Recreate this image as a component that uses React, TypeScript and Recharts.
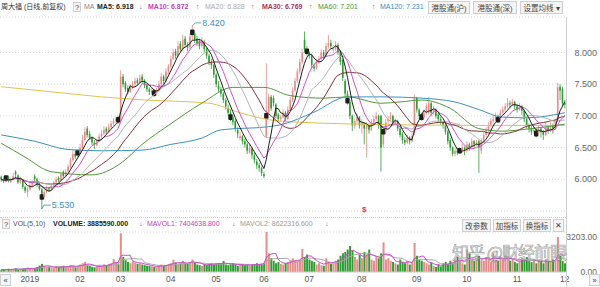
import React from 'react'
import { Bar, CartesianGrid, Cell, ComposedChart, Line, XAxis, YAxis } from 'recharts'

// daily candles, Dec 2018 .. 2 Dec 2019 (index = trading day)
const opens = [
  6.04, 6.0, 5.96, 6.04, 5.96, 6.0, 6.12, 6.06, 5.95, 5.98,
  5.88, 5.8, 5.84, 5.9, 6.05, 6.0, 5.92, 5.84, 5.72, 5.8,
  5.86, 5.84, 5.9, 5.95, 6.02, 5.98, 6.12, 6.05, 6.12, 6.2,
  6.3, 6.4, 6.36, 6.42, 6.5, 6.62, 6.8, 6.72, 6.65, 6.58,
  6.54, 6.6, 6.68, 6.72, 6.8, 6.75, 6.82, 6.88, 6.92, 6.97,
  6.95, 7.62, 7.52, 7.44, 7.38, 7.45, 7.5, 7.56, 7.52, 7.62,
  7.56, 7.48, 7.42, 7.37, 7.4, 7.36, 7.4, 7.5, 7.62, 7.55,
  7.7, 7.78, 7.9, 8.02, 7.95, 8.14, 8.05, 8.22, 8.12, 8.08,
  8.25, 8.3, 8.22, 8.18, 8.1, 8.16, 8.05, 7.95, 7.84, 7.8,
  7.65, 7.48, 7.42, 7.35, 7.25, 7.12, 7.05, 6.98, 6.92, 6.78,
  6.65, 6.68, 6.6, 6.55, 6.42, 6.48, 6.38, 6.28, 6.22, 6.18,
  6.08, 6.67, 7.05, 7.3, 7.28, 7.18, 7.02, 6.95, 6.98, 7.05,
  6.95, 7.1, 7.25, 7.4, 7.55, 7.7, 7.85, 8.2, 8.05, 8.0,
  7.95, 7.78, 7.75, 7.85, 7.9, 8.0, 7.95, 8.1, 8.15, 8.05,
  8.05, 8.12, 8.0, 7.88, 7.55, 7.35, 7.22, 7.0, 6.85, 6.92,
  6.98, 6.85, 6.86, 6.8, 6.85, 6.78, 6.9, 6.95, 7.0, 7.0,
  6.55, 6.75, 6.92, 6.95, 7.0, 6.88, 6.92, 6.8, 6.72, 6.62,
  6.58, 6.66, 6.6, 6.72, 7.28, 7.1, 7.0, 6.98, 7.05, 7.05,
  7.2, 7.05, 7.1, 7.02, 6.95, 6.9, 6.85, 6.75, 6.62, 6.5,
  6.4, 6.46, 6.42, 6.45, 6.5, 6.45, 6.55, 6.5, 6.6, 6.55,
  6.6, 6.45, 6.6, 6.7, 6.78, 6.85, 6.92, 6.95, 7.0, 6.95,
  7.05, 7.1, 7.15, 7.2, 7.18, 7.22, 7.15, 7.1, 7.15, 7.08,
  6.95, 6.85, 6.8, 6.75, 6.78, 6.72, 6.8, 6.75, 6.7, 6.82,
  6.78, 6.85, 6.8, 6.92, 7.46, 7.42, 7.2,
]
const highs = [
  6.06, 6.03, 6.05, 6.06, 6.03, 6.1, 6.14, 6.08, 6.04, 6.0,
  5.9, 5.88, 5.94, 5.98, 6.08, 6.02, 5.94, 5.86, 5.84, 5.9,
  5.88, 5.93, 5.98, 6.04, 6.05, 6.12, 6.14, 6.16, 6.24, 6.34,
  6.46, 6.45, 6.46, 6.56, 6.7, 6.82, 6.84, 6.76, 6.68, 6.62,
  6.64, 6.72, 6.78, 6.84, 6.83, 6.88, 6.92, 6.96, 6.99, 7.0,
  7.72, 7.66, 7.55, 7.48, 7.5, 7.55, 7.6, 7.6, 7.65, 7.66,
  7.58, 7.5, 7.45, 7.44, 7.42, 7.44, 7.55, 7.68, 7.65, 7.75,
  7.82, 7.95, 8.06, 8.06, 8.18, 8.18, 8.28, 8.26, 8.16, 8.3,
  8.42, 8.34, 8.26, 8.22, 8.24, 8.2, 8.08, 7.98, 7.9, 7.82,
  7.68, 7.55, 7.46, 7.38, 7.28, 7.18, 7.1, 7.02, 6.95, 6.82,
  6.75, 6.7, 6.64, 6.58, 6.56, 6.5, 6.42, 6.32, 6.26, 6.2,
  6.12, 7.83, 7.35, 7.33, 7.32, 7.2, 7.05, 7.02, 7.1, 7.08,
  7.15, 7.3, 7.45, 7.6, 7.75, 7.9, 8.06, 8.33, 8.1, 8.02,
  7.98, 7.82, 7.9, 7.95, 8.05, 8.04, 8.15, 8.28, 8.2, 8.12,
  8.18, 8.15, 8.03, 7.9, 7.58, 7.4, 7.25, 7.02, 6.96, 7.04,
  7.0, 6.95, 6.9, 6.9, 6.88, 6.95, 7.0, 7.06, 7.02, 7.02,
  6.8, 6.95, 7.0, 7.06, 7.02, 6.96, 6.94, 6.82, 6.74, 6.66,
  6.7, 6.68, 6.72, 7.34, 7.3, 7.12, 7.05, 7.1, 7.2, 7.3,
  7.22, 7.16, 7.12, 7.05, 6.98, 6.92, 6.88, 6.78, 6.65, 6.52,
  6.5, 6.5, 6.5, 6.56, 6.52, 6.6, 6.58, 6.65, 6.62, 6.62,
  6.62, 6.65, 6.75, 6.82, 6.9, 6.96, 7.0, 7.05, 7.02, 7.1,
  7.15, 7.2, 7.28, 7.24, 7.27, 7.24, 7.18, 7.2, 7.17, 7.1,
  6.98, 6.88, 6.84, 6.82, 6.8, 6.85, 6.82, 6.78, 6.9, 6.85,
  6.9, 6.88, 6.95, 7.52, 7.5, 7.46, 7.25,
]
const lows = [
  5.96, 5.94, 5.95, 5.95, 5.94, 5.98, 6.02, 5.93, 5.92, 5.85,
  5.78, 5.72, 5.82, 5.88, 5.96, 5.88, 5.82, 5.53, 5.7, 5.78,
  5.8, 5.82, 5.88, 5.93, 5.95, 5.96, 6.02, 6.03, 6.1, 6.18,
  6.28, 6.32, 6.34, 6.4, 6.48, 6.6, 6.66, 6.62, 6.54, 6.48,
  6.52, 6.58, 6.64, 6.7, 6.7, 6.73, 6.8, 6.85, 6.88, 6.88,
  6.93, 7.45, 7.38, 7.34, 7.36, 7.42, 7.46, 7.48, 7.5, 7.52,
  7.44, 7.38, 7.33, 7.34, 7.3, 7.34, 7.38, 7.48, 7.5, 7.53,
  7.66, 7.75, 7.88, 7.9, 7.93, 8.0, 8.02, 8.08, 8.02, 8.06,
  8.2, 8.15, 8.1, 8.05, 8.08, 8.0, 7.9, 7.8, 7.74, 7.6,
  7.45, 7.38, 7.3, 7.2, 7.1, 7.0, 6.92, 6.85, 6.75, 6.65,
  6.62, 6.55, 6.5, 6.4, 6.4, 6.32, 6.25, 6.16, 6.12, 6.05,
  6.02, 6.65, 7.02, 7.08, 7.15, 6.96, 6.9, 6.92, 6.96, 6.9,
  6.93, 7.08, 7.22, 7.38, 7.52, 7.66, 7.82, 8.0, 7.95, 7.9,
  7.75, 7.7, 7.73, 7.82, 7.88, 7.9, 7.93, 8.06, 8.05, 8.0,
  8.02, 7.96, 7.8, 7.55, 7.3, 7.18, 6.95, 6.76, 6.8, 6.88,
  6.8, 6.72, 6.55, 6.34, 6.72, 6.76, 6.86, 6.92, 6.8, 6.12,
  6.5, 6.72, 6.88, 6.92, 6.84, 6.85, 6.76, 6.66, 6.56, 6.54,
  6.56, 6.55, 6.58, 6.7, 7.05, 6.95, 6.92, 6.96, 7.02, 7.02,
  7.0, 7.02, 6.96, 6.9, 6.86, 6.8, 6.7, 6.55, 6.45, 6.36,
  6.36, 6.38, 6.4, 6.42, 6.38, 6.42, 6.45, 6.48, 6.5, 6.52,
  6.1, 6.4, 6.58, 6.66, 6.75, 6.82, 6.88, 6.92, 6.9, 6.92,
  7.02, 7.06, 7.12, 7.12, 7.15, 7.1, 7.05, 7.08, 7.02, 6.9,
  6.8, 6.74, 6.7, 6.72, 6.66, 6.7, 6.66, 6.62, 6.68, 6.72,
  6.75, 6.72, 6.78, 6.9, 7.25, 7.15, 7.12,
]
const closes = [
  6.0, 5.97, 6.02, 5.98, 6.0, 6.05, 6.08, 5.95, 6.0, 5.88,
  5.82, 5.85, 5.9, 5.95, 6.0, 5.92, 5.85, 5.72, 5.8, 5.86,
  5.84, 5.9, 5.95, 6.0, 5.98, 6.08, 6.05, 6.12, 6.2, 6.3,
  6.4, 6.36, 6.42, 6.5, 6.62, 6.75, 6.7, 6.65, 6.58, 6.55,
  6.6, 6.68, 6.72, 6.78, 6.75, 6.82, 6.88, 6.92, 6.95, 6.94,
  7.62, 7.5, 7.42, 7.38, 7.45, 7.5, 7.55, 7.52, 7.6, 7.56,
  7.48, 7.42, 7.38, 7.4, 7.36, 7.4, 7.5, 7.62, 7.55, 7.7,
  7.78, 7.9, 8.0, 7.95, 8.1, 8.05, 8.2, 8.12, 8.08, 8.25,
  8.32, 8.2, 8.15, 8.1, 8.18, 8.05, 7.95, 7.85, 7.8, 7.65,
  7.5, 7.42, 7.35, 7.25, 7.15, 7.05, 6.98, 6.9, 6.8, 6.72,
  6.68, 6.6, 6.55, 6.45, 6.5, 6.38, 6.3, 6.22, 6.18, 6.1,
  6.05, 7.0, 7.3, 7.12, 7.2, 7.0, 6.95, 6.98, 7.05, 6.95,
  7.1, 7.25, 7.4, 7.55, 7.7, 7.85, 8.0, 8.05, 8.02, 7.95,
  7.8, 7.75, 7.85, 7.9, 8.0, 7.95, 8.1, 8.15, 8.1, 8.05,
  8.12, 8.0, 7.85, 7.6, 7.35, 7.24, 7.0, 6.85, 6.92, 6.98,
  6.85, 6.9, 6.8, 6.85, 6.78, 6.9, 6.95, 7.0, 6.85, 6.5,
  6.75, 6.9, 6.95, 7.0, 6.88, 6.92, 6.8, 6.7, 6.62, 6.58,
  6.65, 6.6, 6.68, 7.3, 7.1, 7.0, 6.98, 7.05, 7.15, 7.2,
  7.05, 7.1, 7.0, 6.95, 6.9, 6.85, 6.75, 6.6, 6.5, 6.4,
  6.45, 6.42, 6.45, 6.5, 6.45, 6.55, 6.5, 6.6, 6.55, 6.58,
  6.5, 6.6, 6.7, 6.78, 6.85, 6.92, 6.95, 7.0, 6.94, 7.05,
  7.1, 7.15, 7.2, 7.18, 7.22, 7.15, 7.1, 7.15, 7.08, 6.95,
  6.85, 6.8, 6.75, 6.78, 6.72, 6.8, 6.75, 6.7, 6.82, 6.78,
  6.85, 6.8, 6.9, 7.45, 7.4, 7.2, 7.18,
]
// volume, 万股
const volumes = [
  180, 220, 150, 260, 200, 240, 300, 180, 220, 260,
  300, 350, 280, 240, 300, 400, 520, 650, 480, 380,
  420, 350, 300, 450, 380, 420, 500, 380, 450, 560,
  520, 380, 450, 600, 700, 820, 560, 480, 420, 380,
  450, 520, 480, 600, 550, 650, 700, 1050, 800, 620,
  3100, 1200, 950, 800, 700, 850, 750, 650, 700, 600,
  550, 500, 480, 450, 400, 420, 520, 600, 480, 550,
  650, 700, 980, 750, 620, 680, 900, 700, 650, 800,
  1000, 750, 600, 550, 500, 620, 580, 650, 700, 600,
  680, 720, 650, 880, 600, 550, 620, 700, 580, 500,
  560, 620, 540, 600, 520, 580, 640, 700, 600, 650,
  720, 3203, 1500, 1100, 900, 700, 800, 650, 600, 720,
  800, 950, 1100, 900, 850, 1000, 1850, 1200, 1400, 1000,
  900, 800, 600, 700, 550, 500, 1100, 800, 650, 700,
  900, 1000, 1300, 1500, 1600, 1800, 2080, 1700, 1200, 1000,
  1400, 1100, 1600, 1400, 1800, 1000, 900, 1200, 1100, 1500,
  2370, 1000, 1100, 900, 800, 700, 600, 1000, 800, 700,
  900, 600, 800, 2320, 1300, 1000, 900, 800, 700, 600,
  750, 500, 400, 600, 450, 700, 800, 650, 900, 700,
  1000, 1200, 900, 700, 600, 1800, 1500, 1000, 900, 1100,
  1300, 1000, 900, 1200, 1100, 800, 1500, 1000, 900, 1200,
  1000, 1300, 1100, 900, 1000, 800, 700, 900, 1100, 1000,
  1200, 900, 800, 1000, 700, 900, 800, 700, 1000, 800,
  900, 1000, 900, 2800, 1300, 900, 700,
]

// long averages at a few days
const ma60At = [0, 10, 21, 38, 50, 59, 70, 84, 97, 110, 121, 135, 145, 159, 167, 176, 188, 200, 210, 222, 236]
const ma60Val = [6.57, 6.35, 6.12, 6.07, 6.25, 6.55, 6.85, 7.2, 7.45, 7.45, 7.32, 7.28, 7.3, 7.2, 7.22, 7.25, 7.12, 6.8, 6.76, 6.8, 6.87]
const ma120At = [0, 14, 28, 42, 59, 71, 84, 92, 112, 117, 131, 145, 160, 176, 190, 200, 210, 220, 236]
const ma120Val = [6.7, 6.6, 6.47, 6.45, 6.46, 6.55, 6.65, 6.78, 6.83, 6.86, 7.06, 7.3, 7.3, 7.28, 7.22, 7.1, 6.98, 6.97, 7.05]
const ma250At = [0, 21, 42, 61, 87, 100, 112, 125, 167, 200, 236]
const ma250Val = [7.46, 7.38, 7.3, 7.25, 7.2, 7.05, 6.94, 6.9, 6.86, 6.85, 6.85]

const markerDays = [2, 17, 32, 49, 64, 80, 96, 111, 128, 145, 160, 176, 192, 208, 224]
const monthTicks = [12, 33, 50, 71, 90, 110, 129, 151, 174, 195, 216, 236]
const monthLabels = ['2019', '02', '03', '04', '05', '06', '07', '08', '09', '10', '11', '12']
const priceTicks = [6, 6.5, 7, 7.5, 8]
const volTicks = [0, 1577, 3203]

const UP = '#e58c8c'
const DOWN = '#2f9d33'
const TEAL = '#3b8fb8'
const FONT = '"Liberation Sans", Arial, "Noto Sans CJK SC", sans-serif'
const W = 600

function movingAvg(src: number[], n: number) {
  return src.map((_, i) => {
    const win = src.slice(Math.max(0, i - n + 1), i + 1)
    return win.reduce((a, b) => a + b, 0) / win.length
  })
}

function sparse(at: number[], val: number[], len: number) {
  const out: (number | null)[] = new Array(len).fill(null)
  at.forEach((d, k) => (out[d] = val[k]))
  return out
}

const ma5 = movingAvg(closes, 5)
const ma10 = movingAvg(closes, 10)
const ma20 = movingAvg(closes, 20)
const ma30 = movingAvg(closes, 30)
const ma60 = sparse(ma60At, ma60Val, closes.length)
const ma120 = sparse(ma120At, ma120Val, closes.length)
const ma250 = sparse(ma250At, ma250Val, closes.length)
const mavol1 = movingAvg(volumes, 5)
const mavol2 = movingAvg(volumes, 10)

const hiIdx = highs.indexOf(Math.max(...highs))
const loIdx = lows.indexOf(Math.min(...lows))

const data = closes.map((c, i) => ({
  i,
  o: opens[i],
  h: highs[i],
  l: lows[i],
  c,
  v: volumes[i],
  ma5: ma5[i],
  ma10: ma10[i],
  ma20: ma20[i],
  ma30: ma30[i],
  ma60: ma60[i],
  ma120: ma120[i],
  ma250: ma250[i],
  mv1: mavol1[i],
  mv2: mavol2[i],
}))

function Candle(props: any) {
  const { x, y, width, height, payload } = props
  if (!payload || x == null) return null
  const top = Math.min(y, y + height)
  const bot = Math.max(y, y + height)
  const span = payload.h - payload.l || 1
  const py = (v: number) => top + ((payload.h - v) / span) * (bot - top)
  const col = payload.c >= payload.o ? UP : DOWN
  const cx = x + width / 2
  const bw = Math.max(1.3, width * 0.8)
  const bt = py(Math.max(payload.o, payload.c))
  const bb = py(Math.min(payload.o, payload.c))
  return (
    <g>
      <line x1={cx} x2={cx} y1={top} y2={bot} stroke={col} strokeWidth={0.8} />
      <rect x={cx - bw / 2} y={bt} width={bw} height={Math.max(0.8, bb - bt)} fill={col} />
      {markerDays.includes(payload.i) && (
        <rect x={cx - 2.2} y={py(payload.c) - 2.8} width={4.4} height={5.6} rx={1} fill="#1d1d1d" />
      )}
      {payload.i === hiIdx && (
        <g>
          <path d={`M${cx},${top} L${cx + 3},${top - 3} L${cx + 9},${top - 3}`} stroke={TEAL} fill="none" strokeWidth={0.8} />
          <text x={cx + 10} y={top - 3} dy="0.35em" fontSize={9} fill={TEAL} fontFamily={FONT}>
            {payload.h.toFixed(3)}
          </text>
        </g>
      )}
      {payload.i === loIdx && (
        <g>
          <path d={`M${cx},${bot} L${cx + 2},${bot - 4} L${cx + 9},${bot - 4}`} stroke={TEAL} fill="none" strokeWidth={0.8} />
          <text x={cx + 10} y={bot - 4} dy="0.35em" fontSize={9} fill={TEAL} fontFamily={FONT}>
            {payload.l.toFixed(3)}
          </text>
        </g>
      )}
    </g>
  )
}

function RightTick(props: any) {
  const { y, payload, digits, size } = props
  return (
    <text x={W - 3} y={y} dy="0.35em" textAnchor="end" fontSize={size} fill="#666" fontFamily={FONT}>
      {Number(payload.value).toFixed(digits)}
    </text>
  )
}

function Txt({ x, y, color = '#333', size = 7, bold = false, children }: any) {
  return (
    <div
      style={{
        position: 'absolute',
        left: x,
        top: y,
        fontSize: size,
        lineHeight: 1,
        color,
        fontWeight: bold ? 700 : 400,
        whiteSpace: 'nowrap',
      }}
    >
      {children}
    </div>
  )
}

function Btn({ x, y, w, h = 13, children }: any) {
  return (
    <div
      style={{
        position: 'absolute',
        left: x,
        top: y,
        width: w,
        height: h,
        boxSizing: 'border-box',
        border: '1px solid #cfcfcf',
        background: '#f4f4f4',
        color: '#444',
        fontSize: 7.5,
        display: 'flex',
        alignItems: 'center',
        justifyContent: 'center',
        whiteSpace: 'nowrap',
      }}
    >
      {children}
    </div>
  )
}

const line = (key: string, color: string, sparseLine = false) => (
  <Line
    dataKey={key}
    stroke={color}
    strokeWidth={1}
    dot={false}
    type={sparseLine ? 'monotone' : 'linear'}
    connectNulls
    isAnimationActive={false}
  />
)

export default function App() {
  return (
    <div style={{ position: 'absolute', left: 0, top: 0, width: W, height: 287, background: '#fff', overflow: 'hidden', fontFamily: FONT }}>
      {/* header row */}
      <Txt x={1} y={3} color="#333">周大福 (日线,前复权)</Txt>
      <Btn x={73} y={2} w={8} h={10}>?</Btn>
      <Txt x={84} y={3} color="#888">MA</Txt>
      <Txt x={97} y={3} color="#222" bold>MA5: 6.918</Txt>
      <Txt x={139} y={3} color="#3a6fc4">↓</Txt>
      <Txt x={148} y={3} color="#c53ec5" bold>MA10: 6.872</Txt>
      <Txt x={196} y={3} color="#e0454a">↑</Txt>
      <Txt x={205} y={3} color="#aaa">MA20: 6.828</Txt>
      <Txt x={251} y={3} color="#e0454a">↑</Txt>
      <Txt x={262} y={3} color="#a8345a" bold>MA30: 6.769</Txt>
      <Txt x={309} y={3} color="#e0454a">↑</Txt>
      <Txt x={318} y={3} color="#3d9a3d">MA60: 7.201</Txt>
      <Txt x={372} y={3} color="#e0454a">↑</Txt>
      <Txt x={380} y={3} color="#2f8fc8">MA120: 7.231</Txt>
      <Btn x={428} y={1} w={42}>港股通(沪)</Btn>
      <Btn x={473} y={1} w={44}>港股通(深)</Btn>
      <Btn x={520} y={1} w={43}>设置均线 ▾</Btn>

      <div style={{ position: 'absolute', left: 0, top: 0 }}>
        <ComposedChart width={W} height={215} data={data} margin={{ top: 17, right: 0, bottom: 4, left: 0 }} barCategoryGap="10%">
          <CartesianGrid vertical={false} stroke="#d6d6d6" strokeDasharray="1 2" />
          <XAxis dataKey="i" hide />
          <YAxis
            orientation="right"
            width={34}
            domain={[5.5, 8.56]}
            ticks={priceTicks}
            axisLine={false}
            tickLine={false}
            tick={<RightTick digits={3} size={9} />}
          />
          <Bar dataKey={(d: any) => [d.l, d.h]} shape={<Candle />} isAnimationActive={false} />
          {line('ma250', '#e6c24a', true)}
          {line('ma120', '#3b93bd', true)}
          {line('ma60', '#4f9a3c', true)}
          {line('ma30', '#7e2f35')}
          {line('ma20', '#b4b4b4')}
          {line('ma10', '#d24fce')}
          {line('ma5', '#1e1e1e')}
        </ComposedChart>
      </div>

      <Txt x={362} y={206} color="#e23a3a" size={8} bold>$</Txt>

      {/* volume header */}
      <div style={{ position: 'absolute', left: 0, top: 217, width: 566, borderTop: '1px dotted #cfcfcf' }} />
      <Btn x={2} y={219} w={8} h={10}>?</Btn>
      <Txt x={13} y={220} color="#555">VOL(5,10)</Txt>
      <Txt x={53} y={220} color="#222" bold>VOLUME: 3885590.000</Txt>
      <Txt x={139} y={220} color="#3a6fc4">↓</Txt>
      <Txt x={147} y={220} color="#c53ec5">MAVOL1: 7404638.800</Txt>
      <Txt x={232} y={220} color="#3a6fc4">↓</Txt>
      <Txt x={240} y={220} color="#999">MAVOL2: 8622316.600</Txt>
      <Txt x={325} y={220} color="#3a6fc4">↓</Txt>
      <Btn x={462} y={219} w={29}>改参数</Btn>
      <Btn x={493} y={219} w={28}>加指标</Btn>
      <Btn x={523} y={219} w={28}>换指标</Btn>
      <Btn x={553} y={219} w={11}>✕</Btn>

      <div style={{ position: 'absolute', left: 0, top: 228 }}>
        <ComposedChart width={W} height={59} data={data} margin={{ top: 4, right: 0, bottom: 0, left: 0 }} barCategoryGap="18%">
          <CartesianGrid vertical={false} stroke="#d6d6d6" strokeDasharray="1 2" />
          <XAxis
            dataKey="i"
            height={15}
            ticks={monthTicks}
            interval={0}
            tickFormatter={(v: number) => monthLabels[monthTicks.indexOf(v)] ?? ''}
            axisLine={{ stroke: '#cfcfcf' }}
            tickLine={false}
            tickSize={0}
            tickMargin={4}
            tick={{ fontSize: 8.5, fill: '#555', fontFamily: FONT }}
          />
          <YAxis
            orientation="right"
            width={34}
            domain={[0, 3203]}
            ticks={volTicks}
            axisLine={false}
            tickLine={false}
            tick={<RightTick digits={2} size={8.5} />}
          />
          <Bar dataKey="v" isAnimationActive={false}>
            {data.map((d) => (
              <Cell key={d.i} fill={d.c >= d.o ? UP : DOWN} />
            ))}
          </Bar>
          {line('mv2', '#a9a9a9')}
          {line('mv1', '#c94bc9')}
        </ComposedChart>
      </div>

      {/* right border and pager buttons */}
      <div style={{ position: 'absolute', left: 566, top: 17, width: 1, height: 270, background: '#cfcfcf' }} />
      <Btn x={0} y={274} w={11} h={12}>«</Btn>
      <Btn x={589} y={274} w={11} h={12}>»</Btn>

      <div
        style={{
          position: 'absolute',
          left: 452,
          top: 239,
          fontSize: 17,
          color: 'rgba(255,255,255,0.55)',
          WebkitTextStroke: '0.7px rgba(110,110,110,0.65)',
          fontFamily: '"Noto Sans CJK SC", sans-serif',
          whiteSpace: 'nowrap',
          letterSpacing: -1,
        }}
      >
        知乎 @财经前眼
      </div>
    </div>
  )
}
